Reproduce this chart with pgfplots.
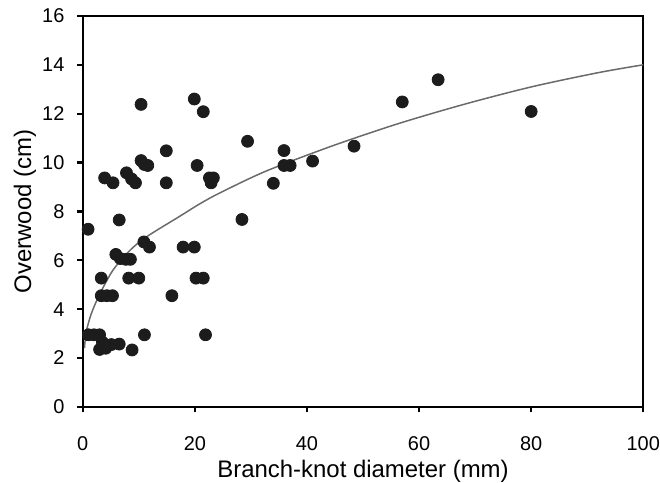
\documentclass[border=0pt]{standalone}
\usepackage{pgfplots}
\pgfplotsset{compat=1.18}
\usepackage{fontspec}
\setmainfont{Liberation Sans}
\definecolor{dotc}{HTML}{1C1C1C}
\definecolor{curvec}{HTML}{6A6A6A}
\begin{document}
\begin{tikzpicture}
\begin{axis}[
  scale only axis, width=281pt, height=196pt,
  xmin=0, xmax=100, ymin=0, ymax=16,
  xtick={0,20,...,100}, ytick={0,2,...,16},
  tick align=outside, xtick pos=bottom, ytick pos=left,
  major tick length=2.7pt,
  axis line style={line width=1.2pt},
  every tick/.style={black, line width=1.1pt},
  /pgf/number format/assume math mode=true,
  tick label style={font=\fontsize{10}{12}\selectfont, inner sep=0pt},
  xticklabel style={yshift=-11.8pt},
  yticklabel style={xshift=-6.3pt},
  label style={font=\fontsize{12}{14}\selectfont},
  xlabel={Branch-knot diameter (mm)},
  ylabel={Overwood (cm)},
  xlabel style={at={(axis description cs:0.5,0)}, anchor=north, inner sep=0pt, yshift=-26.5pt},
  ylabel style={at={(axis description cs:-0.103,0.5)}, anchor=center, inner sep=0pt},
]
\addplot[curvec, line width=0.75pt, smooth] coordinates {
(0.3,2.4) (0.6,3.05) (1.5,3.8) (3,4.6) (5.4,5.6) (8.4,6.4) (11.3,6.95) (17.3,7.8)
(20.8,8.3) (24.4,8.75) (32.7,9.65) (44.5,10.68) (56.4,11.6) (68.3,12.4)
(80.1,13.1) (92,13.68) (100,14.0)
};
\addplot[only marks, mark=*, mark size=3pt, dotc, mark options={draw=dotc, fill=dotc}] coordinates {
(1.0,2.95) (2.0,2.95) (3.0,2.95) (3.5,2.65) (3.0,2.35) (4.1,2.4) (5.1,2.55) (6.5,2.57) (8.8,2.33)
(11.0,2.95) (21.9,2.95)
(0.95,7.27)
(3.3,4.55) (4.3,4.55) (5.3,4.55) (15.9,4.55)
(3.3,5.27) (8.2,5.27) (10.0,5.27) (20.2,5.27) (21.5,5.27)
(10.9,6.75) (11.9,6.54) (17.9,6.54) (19.9,6.54)
(5.9,6.24) (6.7,6.07) (7.7,6.04) (8.5,6.04)
(6.5,7.65) (28.4,7.67)
(10.4,12.38) (19.9,12.6) (21.5,12.08) (29.4,10.87) (14.9,10.48)
(10.4,10.08) (11.0,9.92) (11.6,9.88) (20.4,9.88)
(3.9,9.37) (5.4,9.17) (7.8,9.58) (8.7,9.33) (9.4,9.17) (14.9,9.17)
(22.6,9.37) (23.3,9.37) (22.9,9.17)
(63.4,13.39) (57.0,12.48) (80.0,12.09) (48.4,10.67) (41.0,10.06)
(35.9,10.49) (35.9,9.88) (37.0,9.88) (34.0,9.15)
};
\end{axis}
\path ([shift={(-41.5pt,-38pt)}]current axis.south west) rectangle ([shift={(8.4pt,8pt)}]current axis.north east);
\end{tikzpicture}
\end{document}
